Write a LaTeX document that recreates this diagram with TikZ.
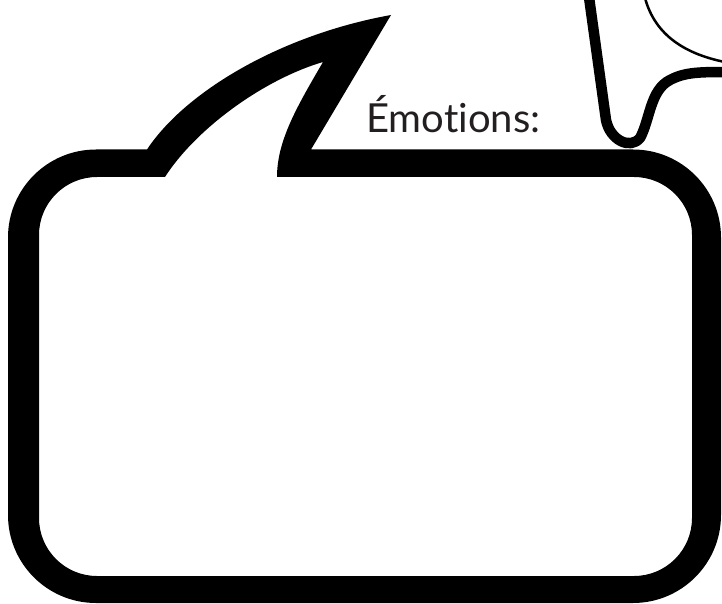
\documentclass[tikz,border=0pt]{standalone}
\usepackage{fontspec}
\usepackage{xcolor}
\usepackage{tikz}
\newfontfamily\bulle[Ligatures=NoCommon]{Lato}
\definecolor{encre}{RGB}{35,31,32}
\tikzset{
  contour/.style={fill=black, even odd rule},
  trait/.style={draw=black, line width=10.5pt, line join=round, line cap=round},
  fin/.style={draw=black, line width=2.5pt},
  etiq/.style={font=\bulle\fontsize{40}{44}\selectfont, color=encre,
    inner sep=0pt, anchor=base west}
}
\begin{document}
\begin{tikzpicture}[x=1pt, y=-1pt]
  \clip (0,0) rectangle (722,604);
  \fill[white] (0,0) rectangle (722,604);
  \draw[fin] (645,-2) .. controls (655,35) and (685,55) .. (730,63);
  \draw[trait] (588,-10) -- (606,120) .. controls (610,140) and (630,150) .. (640,138)
    .. controls (650,120) and (650,90) .. (670,80)
    .. controls (685,72) and (700,72) .. (730,72);
  \fill[contour]
    (147,149.5) .. controls (185,92) and (280,35) .. (391,15) -- (311,149.5)
    -- (633,149.5) arc[start angle=90, end angle=0, radius=88pt]
    -- (721,515) arc[start angle=0, end angle=-90, radius=88pt]
    -- (96,603) arc[start angle=270, end angle=180, radius=88pt]
    -- (8,237.5) arc[start angle=180, end angle=90, radius=88pt] -- cycle
    (277,177) -- (634,177) arc[start angle=90, end angle=0, radius=58pt]
    -- (692,518) arc[start angle=0, end angle=-90, radius=58pt]
    -- (97,576) arc[start angle=270, end angle=180, radius=58pt]
    -- (39,235) arc[start angle=180, end angle=90, radius=58pt]
    -- (165,177) .. controls (195,130) and (262,80) .. (323,62)
    .. controls (298,105) and (277,140) .. (277,177) -- cycle;
  \node[etiq] (titre) at (366,133) {Émotions:};
\end{tikzpicture}
\end{document}
